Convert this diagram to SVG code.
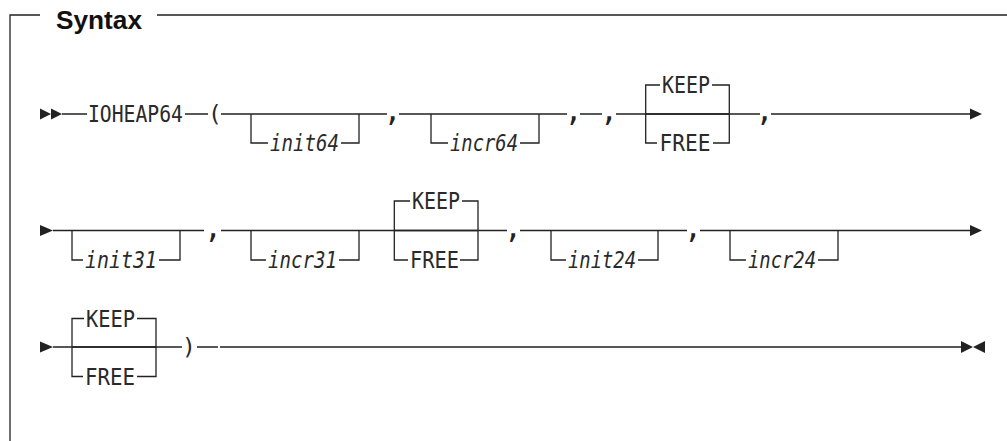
<svg xmlns="http://www.w3.org/2000/svg" width="1007" height="441" viewBox="0 0 1007 441">
<style>
.ln{stroke:#222;stroke-width:1.3;fill:none}
.ah{fill:#222;stroke:none}
.t{font-family:"DejaVu Sans Mono","Liberation Mono",monospace;font-size:23px;fill:#2a2a2a}
.v{font-style:italic}
.c{font-family:"DejaVu Sans Mono","Liberation Mono",monospace;font-size:30px;fill:#222;text-anchor:middle}
.p{font-family:"DejaVu Sans Mono","Liberation Mono",monospace;font-size:23px;fill:#2a2a2a;text-anchor:middle}
.h{font-family:"Liberation Sans",Arial,sans-serif;font-weight:bold;font-size:25px;fill:#111}
</style>
<rect width="1007" height="441" fill="#fff"/>
<g id="frame">
<path class="ln" d="M10,441 V15 H40 M157,15 H1007"/>
<text class="h" x="56" y="29" textLength="86" lengthAdjust="spacingAndGlyphs">Syntax</text>
</g>
<g id="connectors">
<path class="ah" d="M40,108.5 L51,114 L40,119.5 Z M51,108.5 L62,114 L51,119.5 Z"/>
<path class="ln" d="M62,114 H87 M185,114 H208 M221,114 H387 M399,114 H567 M580,114 H602 M616,114 H760 M771,114 H970"/>
<path class="ah" d="M970,108.5 L982,114 L970,119.5 Z"/>
<path class="ah" d="M40,225 L53,230.5 L40,236 Z"/>
<path class="ln" d="M53,230.5 H204 M221,230.5 H507 M520,230.5 H687 M700,230.5 H970"/>
<path class="ah" d="M970,225 L982,230.5 L970,236 Z"/>
<path class="ah" d="M40,341.5 L53,347 L40,352.5 Z"/>
<path class="ln" d="M53,347 H182 M197,347 H218 M220,347 H961"/>
<path class="ah" d="M961,341 L973,347 L961,353 Z M985,341 L973,347 L985,353 Z"/>
</g>
<g id="kw-ioheap64"><text class="t" x="88" y="122" textLength="95" lengthAdjust="spacingAndGlyphs">IOHEAP64</text></g>
<g id="lparen"><text class="p" x="215" y="122">(</text></g>
<g id="opt-init64">
<path class="ln" d="M251,114 V143 H268 M341,143 H359 V114"/>
<text class="t v" x="270" y="151" textLength="69" lengthAdjust="spacingAndGlyphs">init64</text>
</g>
<g id="comma1"><text class="c" x="392.5" y="121">,</text></g>
<g id="opt-incr64">
<path class="ln" d="M431,114 V143 H448 M520,143 H539 V114"/>
<text class="t v" x="450" y="151" textLength="68" lengthAdjust="spacingAndGlyphs">incr64</text>
</g>
<g id="comma2"><text class="c" x="573.5" y="121">,</text></g>
<g id="comma3"><text class="c" x="609" y="121">,</text></g>
<g id="choice-keep1">
<path class="ln" d="M645.7,114 H729.3 M660,85 H645.7 V143 H657 M712,85 H729.3 V143 H713"/>
<text class="t" x="662" y="93" textLength="48" lengthAdjust="spacingAndGlyphs">KEEP</text>
<text class="t" x="659.5" y="151" textLength="51" lengthAdjust="spacingAndGlyphs">FREE</text>
</g>
<g id="comma4"><text class="c" x="764.5" y="121">,</text></g>
<g id="opt-init31">
<path class="ln" d="M72,230.5 V260 H83 M159,260 H180 V230.5"/>
<text class="t v" x="85" y="268" textLength="72" lengthAdjust="spacingAndGlyphs">init31</text>
</g>
<g id="comma5"><text class="c" x="213" y="237.5">,</text></g>
<g id="opt-incr31">
<path class="ln" d="M251,230.5 V260 H266 M339,260 H359 V230.5"/>
<text class="t v" x="268" y="268" textLength="69" lengthAdjust="spacingAndGlyphs">incr31</text>
</g>
<g id="choice-keep2">
<path class="ln" d="M394.3,230.5 H478 M410,201 H394.3 V260 H408 M462,201 H478 V260 H460"/>
<text class="t" x="412" y="209" textLength="48" lengthAdjust="spacingAndGlyphs">KEEP</text>
<text class="t" x="410" y="268" textLength="49" lengthAdjust="spacingAndGlyphs">FREE</text>
</g>
<g id="comma6"><text class="c" x="513" y="237.5">,</text></g>
<g id="opt-init24">
<path class="ln" d="M551,230.5 V260 H566 M638,260 H658 V230.5"/>
<text class="t v" x="568" y="268" textLength="68" lengthAdjust="spacingAndGlyphs">init24</text>
</g>
<g id="comma7"><text class="c" x="693" y="237.5">,</text></g>
<g id="opt-incr24">
<path class="ln" d="M730,230.5 V260 H746 M818,260 H838 V230.5"/>
<text class="t v" x="748" y="268" textLength="68" lengthAdjust="spacingAndGlyphs">incr24</text>
</g>
<g id="choice-keep3">
<path class="ln" d="M72,347 H156 M84,318.5 H72 V376.5 H83 M137,318.5 H156 V376.5 H137"/>
<text class="t" x="86" y="326.5" textLength="49" lengthAdjust="spacingAndGlyphs">KEEP</text>
<text class="t" x="85" y="385" textLength="50" lengthAdjust="spacingAndGlyphs">FREE</text>
</g>
<g id="rparen"><text class="p" x="189" y="355">)</text></g>
</svg>
